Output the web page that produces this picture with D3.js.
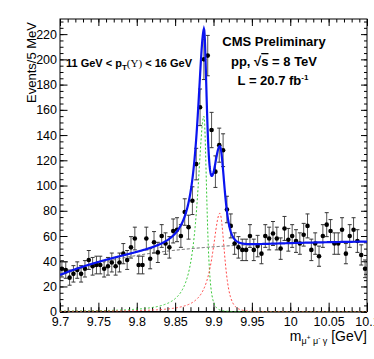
<!DOCTYPE html>
<html>
<head>
<meta charset="utf-8">
<script src="https://cdn.jsdelivr.net/npm/d3@7"></script>
<style>
  body { margin: 0; background: #fff; }
  text { font-family: "Liberation Sans", Arial, Helvetica, sans-serif; }
</style>
</head>
<body>
<svg width="374" height="359"></svg>
<script>
// binned data, 5 MeV bins from 9.7 to 10.1 GeV
var binLow = 9.7, binWidth = 0.005;
var counts = [34, 33, 27, 30, 33, 30, 34, 41, 36, 37,
              37, 34, 36, 39, 36, 39, 46, 41, 51, 58,
              37, 37, 58, 42, 55, 47, 60, 54, 51, 64,
              65, 60, 79, 67, 88, 117, 162, 200, 203, 144,
              111, 132, 128, 81, 68, 54, 51, 49, 49, 60,
              49, 52, 46, 60, 58, 62, 58, 50, 66, 57,
              60, 56, 54, 61, 68, 49, 54, 44, 60, 69,
              64, 54, 54, 65, 46, 60, 65, 56, 45, 34];
var errors = [6.5, 6.5, 6, 6.5, 6.5, 6.5, 6.5, 7.5, 7, 7,
              7, 6.5, 7, 7.5, 7, 7.5, 8, 7.5, 8.5, 9,
              7, 7, 9, 8, 8.5, 8, 9, 8.5, 8.5, 9.5,
              9.5, 9, 10.5, 9.5, 11, 12.5, 14.5, 16, 16, 14,
              12.5, 13.5, 13, 10.5, 9.5, 8.5, 8.5, 8.5, 8.5, 9,
              8.5, 8.5, 8, 9, 9, 9.5, 9, 8.5, 9.5, 9,
              9, 9, 8.5, 9, 9.5, 8.5, 8.5, 8, 9, 9.5,
              9, 8.5, 8.5, 9.5, 8, 9, 9.5, 9, 8, 7];

var xTicks = [9.7, 9.75, 9.8, 9.85, 9.9, 9.95, 10, 10.05, 10.1];
var xTickLabels = ["9.7", "9.75", "9.8", "9.85", "9.9", "9.95", "10", "10.05", "10.1"];
var yTicks = [0, 20, 40, 60, 80, 100, 120, 140, 160, 180, 200, 220];

// fit components
// background: [plateau, threshold, scale]
var bgPars = [56.5, 9.618, 0.117];
// peaks: [height, mean, left width, right width]
var chib1Pars = [155, 9.8875, 0.0100, 0.0067];
var chib2Pars = [78, 9.9083, 0.0115, 0.0110];

var svg = d3.select("svg"),
    padL = 60, padR = 367, padT = 19, padB = 311.7;

var x = d3.scaleLinear().domain([9.7, 10.1]).range([padL, padR]);
var y = d3.scaleLinear().domain([0, 232]).range([padB, padT]);

function background(m) {
  var u = m - bgPars[1];
  return u <= 0 ? 0 : bgPars[0] * (1 - Math.exp(-u / bgPars[2]));
}
function peak(p, m) {
  var d = m - p[1];
  if (d < 0) return p[0] / (1 + (d / p[2]) * (d / p[2]));
  var t = 1 + (d / p[3]) * (d / p[3]);
  return p[0] / (t * t);
}
function total(m) { return background(m) + peak(chib1Pars, m) + peak(chib2Pars, m); }

var masses = d3.range(0, 801).map(function(i) { return 9.7 + i * 0.0005; });

svg.append("clipPath").attr("id", "clip")
  .append("rect").attr("x", padL).attr("y", padT)
  .attr("width", padR - padL).attr("height", padB - padT);

// axes, ROOT style ticks inside the frame
var xMinor = d3.range(0, 41).map(function(i) { return 9.7 + i * 0.01; });
var yMinor = d3.range(0, 47).map(function(i) { return i * 5; });

svg.append("g").attr("transform", "translate(0," + padB + ")")
    .call(d3.axisBottom(x).tickValues(xMinor).tickSize(-4.5).tickFormat(""));
svg.append("g").attr("transform", "translate(0," + padB + ")")
    .attr("class", "xaxis")
    .call(d3.axisBottom(x).tickValues(xTicks).tickSize(-9).tickPadding(5)
      .tickFormat(function(d, i) { return xTickLabels[i]; }));
svg.append("g").attr("transform", "translate(0," + padT + ")")
    .call(d3.axisTop(x).tickValues(xMinor).tickSize(-3.5).tickFormat(""));
svg.append("g").attr("transform", "translate(0," + padT + ")")
    .call(d3.axisTop(x).tickValues(xTicks).tickSize(-7).tickFormat(""));

svg.append("g").attr("transform", "translate(" + padL + ",0)")
    .call(d3.axisLeft(y).tickValues(yMinor).tickSize(-3.5).tickFormat(""));
svg.append("g").attr("transform", "translate(" + padL + ",0)")
    .attr("class", "yaxis")
    .call(d3.axisLeft(y).tickValues(yTicks).tickSize(-7.5).tickPadding(3));
svg.append("g").attr("transform", "translate(" + padR + ",0)")
    .call(d3.axisRight(y).tickValues(yMinor).tickSize(-3).tickFormat(""));
svg.append("g").attr("transform", "translate(" + padR + ",0)")
    .call(d3.axisRight(y).tickValues(yTicks).tickSize(-6).tickFormat(""));

svg.selectAll(".domain").remove();
svg.selectAll(".tick line").attr("stroke", "#000").attr("stroke-width", 1);
svg.selectAll(".xaxis text, .yaxis text")
    .attr("font-size", "12.5px")
    .attr("font-family", "'Liberation Sans', Arial, sans-serif")
    .attr("fill", "#000");

svg.append("rect")
    .attr("x", padL).attr("y", padT)
    .attr("width", padR - padL).attr("height", padB - padT)
    .attr("fill", "none").attr("stroke", "#000").attr("stroke-width", 1);
svg.append("line")
    .attr("x1", padL).attr("x2", padR)
    .attr("y1", y(0)).attr("y2", y(0))
    .attr("stroke", "#000").attr("stroke-width", 1.6);

// fit curves
var plot = svg.append("g").attr("clip-path", "url(#clip)");

function curve(f) {
  return d3.line()
    .x(function(m) { return x(m); })
    .y(function(m) { return y(f(m)); })(masses);
}

plot.append("path")
    .attr("d", curve(background))
    .attr("fill", "none").attr("stroke", "#555")
    .attr("stroke-width", 1).attr("stroke-dasharray", "3,2");
plot.append("path")
    .attr("d", curve(function(m) { return peak(chib1Pars, m); }))
    .attr("fill", "none").attr("stroke", "#33c633")
    .attr("stroke-width", 1).attr("stroke-dasharray", "2,2");
plot.append("path")
    .attr("d", curve(function(m) { return peak(chib2Pars, m); }))
    .attr("fill", "none").attr("stroke", "#ff4444")
    .attr("stroke-width", 1).attr("stroke-dasharray", "2,2");

// data points
var bins = counts.map(function(c, i) {
  return {m: binLow + (i + 0.5) * binWidth, n: c, e: errors[i]};
});

var pts = plot.selectAll(".pt").data(bins).enter().append("g").attr("class", "pt");
pts.append("line")
    .attr("x1", function(d) { return x(d.m); })
    .attr("x2", function(d) { return x(d.m); })
    .attr("y1", function(d) { return y(d.n - d.e); })
    .attr("y2", function(d) { return y(d.n + d.e); })
    .attr("stroke", "#555").attr("stroke-width", 1);
[-1, 1].forEach(function(s) {
  pts.append("line")
      .attr("x1", function(d) { return x(d.m) - 2; })
      .attr("x2", function(d) { return x(d.m) + 2; })
      .attr("y1", function(d) { return y(d.n + s * d.e); })
      .attr("y2", function(d) { return y(d.n + s * d.e); })
      .attr("stroke", "#333").attr("stroke-width", 1);
});

plot.append("path")
    .attr("d", curve(total))
    .attr("fill", "none").attr("stroke", "#0a14f0")
    .attr("stroke-width", 2.2);

pts.append("circle")
    .attr("cx", function(d) { return x(d.m); })
    .attr("cy", function(d) { return y(d.n); })
    .attr("r", 2.3).attr("fill", "#000");

// titles and labels
svg.append("text")
    .attr("transform", "translate(36,22) rotate(-90)")
    .attr("text-anchor", "end").attr("font-size", "13px")
    .text("Events/5 MeV");

var xt = svg.append("text")
    .attr("x", padR).attr("y", 341)
    .attr("text-anchor", "end").attr("font-size", "14px");
xt.append("tspan").text("m");
xt.append("tspan").attr("font-size", "9px").attr("dy", 3).text("\u03bc");
xt.append("tspan").attr("font-size", "6.5px").attr("dy", -4).text("+");
xt.append("tspan").attr("font-size", "9px").attr("dy", 4).text(" \u03bc");
xt.append("tspan").attr("font-size", "6.5px").attr("dy", -4).text("-");
xt.append("tspan").attr("font-size", "9px").attr("dy", 4).text(" \u03b3");
xt.append("tspan").attr("dy", -3).text(" [GeV]");

var pt = svg.append("text")
    .attr("x", 66).attr("y", 67)
    .attr("font-size", "11px").attr("font-weight", "bold");
pt.append("tspan").text("11 GeV < p");
pt.append("tspan").attr("font-size", "8px").attr("dy", 3).text("T");
pt.append("tspan").attr("dy", -3).attr("font-weight", "normal")
    .attr("font-family", "'Liberation Serif', serif").text("(\u03a5)");
pt.append("tspan").text(" < 16 GeV");

svg.append("text")
    .attr("x", 274).attr("y", 46)
    .attr("text-anchor", "middle").attr("font-size", "13px").attr("font-weight", "bold")
    .text("CMS Preliminary");

var rs = svg.append("text")
    .attr("x", 274).attr("y", 66)
    .attr("text-anchor", "middle").attr("font-size", "13px").attr("font-weight", "bold");
rs.append("tspan").text("pp,  \u221a");
rs.append("tspan").attr("text-decoration", "overline").text("s");
rs.append("tspan").text(" = 8 TeV");

var lumi = svg.append("text")
    .attr("x", 273).attr("y", 85)
    .attr("text-anchor", "middle").attr("font-size", "13px").attr("font-weight", "bold");
lumi.append("tspan").text("L = 20.7 fb");
lumi.append("tspan").attr("font-size", "8px").attr("dy", -5).text("-1");
</script>
</body>
</html>
